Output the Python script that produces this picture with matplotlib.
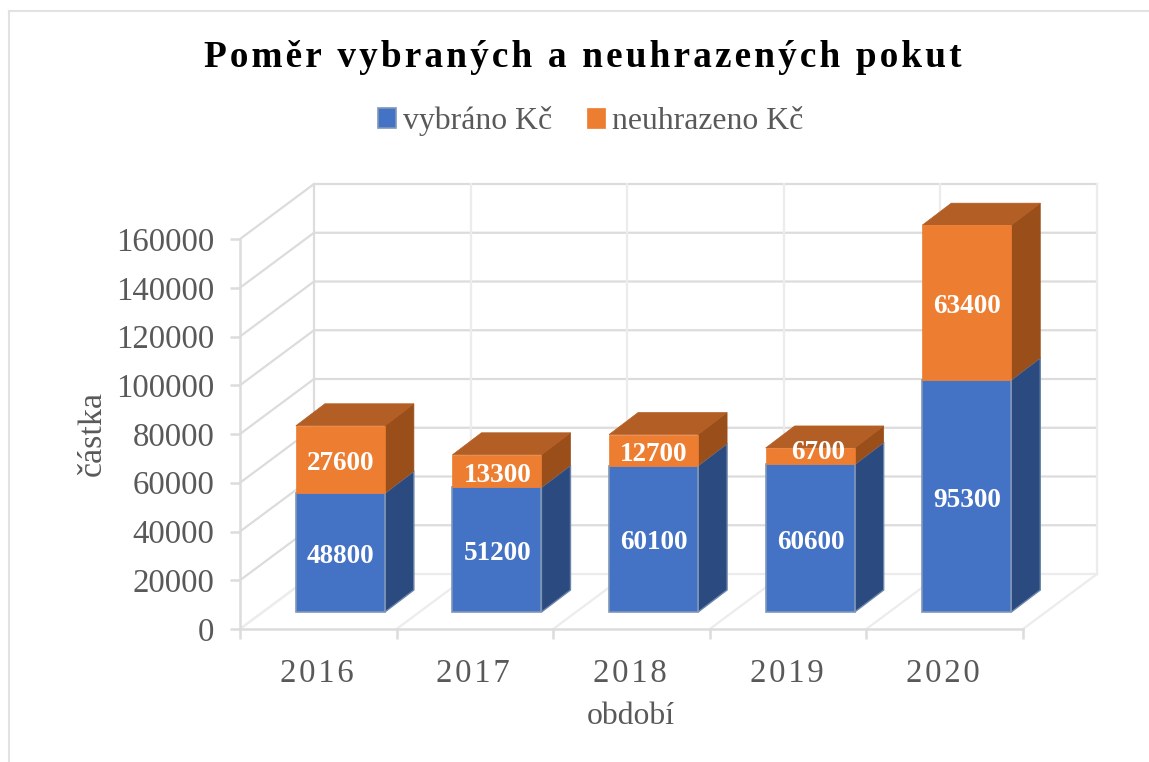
import matplotlib
matplotlib.use("Agg")
from matplotlib import pyplot as plt
from matplotlib.lines import Line2D

plt.rcParams['font.family'] = ['Liberation Serif', 'DejaVu Serif']

years = ["2016", "2017", "2018", "2019", "2020"]
vybrano = [48800, 51200, 60100, 60600, 95300]
neuhrazeno = [27600, 13300, 12700, 6700, 63400]
y_ticks = [0, 20000, 40000, 60000, 80000, 100000, 120000, 140000, 160000]

W, H = 1149, 762
HAIR = "\u200a"

# one category is 156.6 px wide, 160000 is 390 px tall
wall_dx, wall_dy = 74 / 156.6, 55 / 390 * 160000   # depth of the chart box
bar_dx, bar_dy = 29 / 156.6, 22 / 390 * 160000     # depth of a bar
bar_shift, bar_lift = 0.141, 17 / 390 * 160000     # bar sits inside the box
bar_w = 89 / 156.6

GRID = "#dcdcdc"
FLOOR = "#ececec"
TEXT = "#595959"


def spaced(s, n=1):
    return (HAIR * n).join(s)


fig = plt.figure(figsize=(W / 100, H / 100), dpi=100, facecolor="white")
ax = fig.add_axes([240 / W, 1 - 629 / H, 783 / W, 390 / H])
ax.set_xlim(0, 5)
ax.set_ylim(0, 160000)
ax.patch.set_visible(False)

# back and left wall
for v in y_ticks:
    ax.plot([0, wall_dx, 5 + wall_dx], [v, v + wall_dy, v + wall_dy],
            color=FLOOR if v == 0 else GRID, lw=1.6, clip_on=False, zorder=1)
for i in range(6):
    ax.plot([i + wall_dx, i + wall_dx], [wall_dy, 160000 + wall_dy],
            color=GRID if i == 0 else FLOOR, lw=1.6, clip_on=False, zorder=1)
    ax.plot([i, i + wall_dx], [0, wall_dy], color=FLOOR, lw=1.6, clip_on=False, zorder=1)

# bars
xs = [i + 0.5 + bar_shift for i in range(len(years))]
bottoms = [bar_lift] * len(years)
tops = [bar_lift + v for v in vybrano]
blue = ax.bar(xs, vybrano, bar_w, bottom=bottoms, color="#4472c4", edgecolor="#7f97b8",
              lw=1.2, clip_on=False, zorder=3, label="vybráno Kč")
orange = ax.bar(xs, neuhrazeno, bar_w, bottom=tops, color="#ed7d31", edgecolor="#ed7d31",
                lw=0.5, clip_on=False, zorder=3, label="neuhrazeno Kč")

for i, x in enumerate(xs):
    r = x + bar_w / 2
    l = x - bar_w / 2
    b = bottoms[i]
    m = tops[i]
    t = m + neuhrazeno[i]
    # side faces
    ax.fill([r, r + bar_dx, r + bar_dx, r], [b, b + bar_dy, m + bar_dy, m],
            color="#2a4a80", ec="#6d86a8", lw=1, clip_on=False, zorder=2.5)
    ax.fill([r, r + bar_dx, r + bar_dx, r], [m, m + bar_dy, t + bar_dy, t],
            color="#9a4f1b", ec="#9a4f1b", lw=0.5, clip_on=False, zorder=2.5)
    # top face
    ax.fill([l, l + bar_dx, r + bar_dx, r], [t, t + bar_dy, t + bar_dy, t],
            color="#b35e25", ec="#b35e25", lw=0.5, clip_on=False, zorder=2.5)
    ax.text(x + 0.003, b + vybrano[i] / 2 - 500, str(vybrano[i]), color="white", fontsize=19.6,
            fontweight="bold", ha="center", va="center_baseline", zorder=4)
    # the short 2019 label sits up and to the right in the original
    nudge_x, nudge_y = (0.045, 3200) if neuhrazeno[i] < 10000 else (0, 0)
    ax.text(x + 0.003 + nudge_x, m + neuhrazeno[i] / 2 - 500 + nudge_y, str(neuhrazeno[i]), color="white",
            fontsize=19.6, fontweight="bold", ha="center", va="center_baseline", zorder=4)

# axes
for s in ["top", "right"]:
    ax.spines[s].set_visible(False)
for s in ["left", "bottom"]:
    ax.spines[s].set_color(GRID)
    ax.spines[s].set_linewidth(1.8)
ax.set_yticks(y_ticks)
ax.set_yticklabels([str(v) for v in y_ticks], fontsize=23.6, color=TEXT)
ax.set_xticks(range(6))
ax.set_xticklabels([])
ax.set_xticks([i + 0.49 for i in range(5)], minor=True)
ax.set_xticklabels([spaced(y) for y in years], minor=True, fontsize=23.6, color=TEXT)
ax.tick_params(axis="both", which="major", color=GRID, width=1.8, length=7)
ax.tick_params(axis="y", pad=11.5)
ax.tick_params(axis="x", which="minor", length=0, pad=21)

fig.text(631 / W, 1 - 716 / H, "období", fontsize=22.8, color=TEXT, ha="center", va="center")
fig.text(93 / W, 1 - 434 / H, "částka", fontsize=24.5, color=TEXT, ha="center", va="center", rotation=90)

fig.text(583 / W, 1 - 57.5 / H, spaced("Poměr vybraných a neuhrazených pokut"), fontsize=26.8,
         fontweight="bold", color="black", ha="center", va="center")

fig.legend(handles=[blue, orange], labels=["vybráno Kč", "neuhrazeno Kč"], loc="center",
           bbox_to_anchor=(590.5 / W, 1 - 121 / H), ncols=2, frameon=False, fontsize=22.9,
           labelcolor=TEXT, handlelength=0.58, handleheight=0.58, handletextpad=0.2, columnspacing=1.1)

# chart frame
fig.add_artist(Line2D([9 / W, 9 / W], [0, 1 - 11 / H], color="#e2e2e2", lw=1.5))
fig.add_artist(Line2D([9 / W, 1], [1 - 11 / H, 1 - 11 / H], color="#e2e2e2", lw=1.5))

fig.savefig("out.png", dpi=100)
